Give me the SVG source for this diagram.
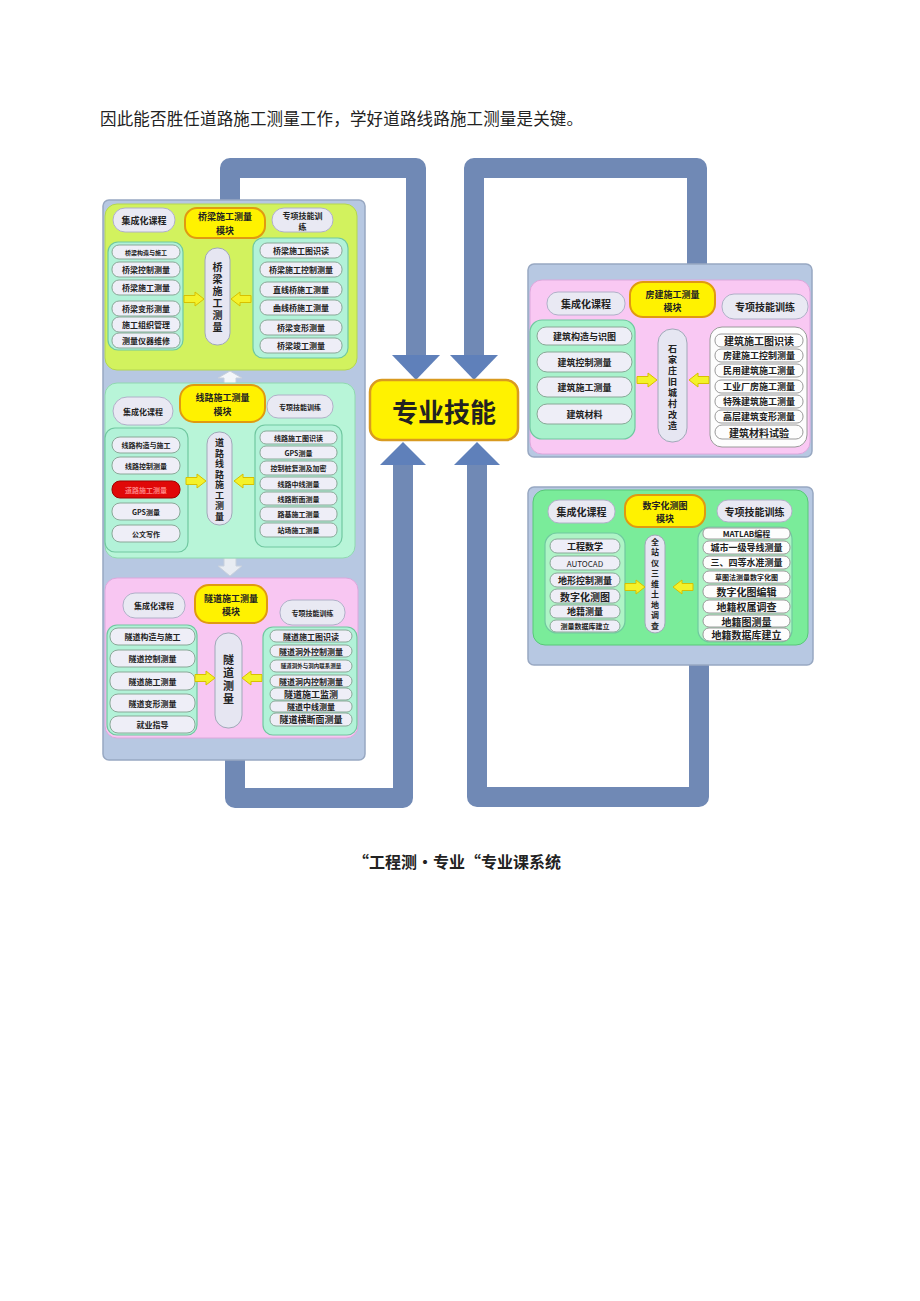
<svg xmlns="http://www.w3.org/2000/svg" width="920" height="1301" viewBox="0 0 920 1301">
<style>
text{font-family:"Noto Sans CJK SC","Noto Sans",sans-serif;fill:#222;text-anchor:middle;dominant-baseline:central;font-weight:bold}
.vt{writing-mode:vertical-rl;text-orientation:upright}
.cont{fill:#b7c8e2;stroke:#98a8c2;stroke-width:1.5}
.p{fill:#eeeef7;stroke:#8aa898;stroke-width:1}
.pw{fill:#fdfdfd;stroke:#9a9a9a;stroke-width:1}
.hd{fill:#e9e9f3;stroke:#b0b0c8;stroke-width:1}
.ti{fill:#fff200;stroke:#e09a10;stroke-width:2}
.vo{fill:#e6e6f2;stroke:#a0a8b8;stroke-width:1}
.ga{fill:#b2f2d8;stroke:#70c8a0;stroke-width:1.2}
.pipe{fill:none;stroke:#7089b5;stroke-width:20;stroke-linejoin:round}
.ah{fill:#5f80ba}
.s6{font-size:6px}.s7{font-size:7px}.s8{font-size:8px}.s9{font-size:9px}.s10{font-size:10px}.s11{font-size:11px}
</style>
<defs>
<polygon id="ar" points="-10,-3.5 1,-3.5 1,-7 10,0 1,7 1,3.5 -10,3.5" fill="#f4f22a" stroke="#d8c000" stroke-width="1"/>
</defs>
<rect width="920" height="1301" fill="#fff"/>
<text x="100" y="118" style="font-size:16.5px;font-weight:normal;text-anchor:start" textLength="483">因此能否胜任道路施工测量工作，学好道路线路施工测量是关键。</text>

<g id="connectors">
<path class="pipe" d="M230,205 V168 H416 V357"/>
<polygon class="ah" points="392,355 440,355 416,380"/>
<path class="pipe" d="M697,270 V168 H474 V357"/>
<polygon class="ah" points="450,355 498,355 474,380"/>
<path class="pipe" d="M403,463 V798 H235 V757"/>
<polygon class="ah" points="380,465 426,465 403,442"/>
<path class="pipe" d="M477,463 V797 H699 V662"/>
<polygon class="ah" points="454,465 500,465 477,442"/>
</g>

<g id="left-container">
<rect class="cont" x="103" y="200" width="262" height="560" rx="6"/>
<polygon points="224,384 224,378 218,378 230,371 242,378 236,378 236,384" fill="#f4f6fa" stroke="#c8d0dc"/>
<polygon points="224,558 224,566 218,566 230,576 242,566 236,566 236,558" fill="#e8ecf2" stroke="#c8d0dc"/>
</g>

<g id="bridge-module">
<rect x="105" y="204" width="252" height="166" rx="12" fill="#d2f25e" stroke="#b4d650"/>
<rect class="hd" x="113" y="208" width="62" height="24" rx="12"/><text class="s9" x="144" y="220">集成化课程</text>
<rect class="ti" x="185" y="208" width="80" height="30" rx="12"/><text class="s9" x="225" y="216">桥梁施工测量</text><text class="s9" x="225" y="230">模块</text>
<rect class="hd" x="272" y="208" width="61" height="24" rx="12"/><text class="s8" x="302.5" y="215">专项技能训</text><text class="s8" x="302.5" y="226">练</text>
<rect class="ga" x="108" y="242" width="75" height="108" rx="10"/>
<rect class="p" x="112" y="245" width="68" height="14" rx="7"/><text class="s6" x="146" y="252">桥梁构造与施工</text>
<rect class="p" x="112" y="262" width="68" height="15" rx="7"/><text class="s8" x="146" y="269.5">桥梁控制测量</text>
<rect class="p" x="112" y="280" width="68" height="15" rx="7"/><text class="s8" x="146" y="287.5">桥梁施工测量</text>
<rect class="p" x="112" y="301" width="68" height="15" rx="7"/><text class="s8" x="146" y="308.5">桥梁变形测量</text>
<rect class="p" x="112" y="317" width="68" height="15" rx="7"/><text class="s8" x="146" y="324.5">施工组织管理</text>
<rect class="p" x="112" y="333" width="68" height="15" rx="7"/><text class="s8" x="146" y="340.5">测量仪器维修</text>
<rect class="vo" x="205" y="248" width="25" height="97" rx="12"/>
<text class="s10 vt" x="217.5" y="298" style="letter-spacing:2px">桥梁施工测量</text>
<use href="#ar" transform="translate(194,299)"/>
<use href="#ar" transform="translate(241,299) scale(-1,1)"/>
<rect class="ga" x="253" y="238" width="95" height="120" rx="10"/>
<rect class="p" x="260" y="243" width="82" height="15" rx="7"/><text class="s8" x="301" y="250.5">桥梁施工图识读</text>
<rect class="p" x="260" y="262" width="82" height="15" rx="7"/><text class="s8" x="301" y="269.5">桥梁施工控制测量</text>
<rect class="p" x="260" y="282" width="82" height="15" rx="7"/><text class="s8" x="301" y="289.5">直线桥施工测量</text>
<rect class="p" x="260" y="300" width="82" height="15" rx="7"/><text class="s8" x="301" y="307.5">曲线桥施工测量</text>
<rect class="p" x="260" y="320" width="82" height="15" rx="7"/><text class="s8" x="301" y="327.5">桥梁变形测量</text>
<rect class="p" x="260" y="338" width="82" height="15" rx="7"/><text class="s8" x="301" y="345.5">桥梁竣工测量</text>
</g>

<g id="route-module">
<rect x="105" y="383" width="250" height="175" rx="12" fill="#b8f5d8" stroke="#90d8b0"/>
<rect class="hd" x="113" y="397" width="60" height="28" rx="14"/><text class="s8" x="143" y="411">集成化课程</text>
<rect class="ti" x="180" y="385" width="85" height="37" rx="14"/><text class="s9" x="222.5" y="397">线路施工测量</text><text class="s9" x="222.5" y="411">模块</text>
<rect class="hd" x="267" y="395" width="66" height="23" rx="11"/><text class="s7" x="300" y="406.5">专项技能训练</text>
<rect class="ga" x="105" y="428" width="83" height="124" rx="10"/>
<rect class="p" x="112" y="437" width="68" height="16" rx="8"/><text class="s7" x="146" y="445">线路构造与施工</text>
<rect class="p" x="112" y="457" width="68" height="17" rx="8"/><text class="s7" x="146" y="465.5">线路控制测量</text>
<rect x="112" y="481" width="68" height="17" rx="8" fill="#e00808" stroke="#a00000"/><text class="s7" x="146" y="489.5" style="fill:#ff8080">道路施工测量</text>
<rect class="p" x="112" y="503" width="68" height="17" rx="8"/><text class="s7" x="146" y="511.5">GPS测量</text>
<rect class="p" x="112" y="525" width="68" height="17" rx="8"/><text class="s7" x="146" y="533.5">公文写作</text>
<rect class="vo" x="207" y="432" width="25" height="93" rx="12"/>
<text class="s9 vt" x="219.5" y="480.5" style="letter-spacing:1.5px">道路线路施工测量</text>
<use href="#ar" transform="translate(196,481)"/>
<use href="#ar" transform="translate(244,481) scale(-1,1)"/>
<rect class="ga" x="255" y="425" width="87" height="122" rx="10"/>
<rect class="p" x="260" y="431" width="77" height="13" rx="6"/><text class="s7" x="298.5" y="437.5">线路施工图识读</text>
<rect class="p" x="260" y="446" width="77" height="13" rx="6"/><text class="s7" x="298.5" y="452.5">GPS测量</text>
<rect class="p" x="260" y="461" width="77" height="14" rx="6"/><text class="s7" x="298.5" y="468">控制桩复测及加密</text>
<rect class="p" x="260" y="477" width="77" height="13" rx="6"/><text class="s7" x="298.5" y="483.5">线路中线测量</text>
<rect class="p" x="260" y="492" width="77" height="13" rx="6"/><text class="s7" x="298.5" y="498.5">线路断面测量</text>
<rect class="p" x="260" y="507" width="77" height="14" rx="6"/><text class="s7" x="298.5" y="514">路基施工测量</text>
<rect class="p" x="260" y="523" width="77" height="14" rx="6"/><text class="s7" x="298.5" y="530">站场施工测量</text>
</g>

<g id="tunnel-module">
<rect x="105" y="578" width="253" height="160" rx="12" fill="#f8c6f2" stroke="#dca8dc"/>
<rect class="hd" x="123" y="593" width="62" height="25" rx="12"/><text class="s8" x="154" y="605.5">集成化课程</text>
<rect class="ti" x="195" y="585" width="72" height="38" rx="14"/><text class="s9" x="231" y="598">隧道施工测量</text><text class="s9" x="231" y="611">模块</text>
<rect class="hd" x="280" y="600" width="65" height="25" rx="12"/><text class="s7" x="312.5" y="612.5">专项技能训练</text>
<rect class="ga" x="107" y="625" width="90" height="110" rx="10"/>
<rect class="p" x="110" y="628" width="85" height="17" rx="8"/><text class="s8" x="152.5" y="636.5">隧道构造与施工</text>
<rect class="p" x="110" y="650" width="85" height="17" rx="8"/><text class="s8" x="152.5" y="658.5">隧道控制测量</text>
<rect class="p" x="110" y="672" width="85" height="18" rx="8"/><text class="s8" x="152.5" y="681">隧道施工测量</text>
<rect class="p" x="110" y="694" width="85" height="18" rx="8"/><text class="s8" x="152.5" y="703">隧道变形测量</text>
<rect class="p" x="110" y="716" width="85" height="17" rx="8"/><text class="s8" x="152.5" y="724.5">就业指导</text>
<rect class="vo" x="215" y="633" width="27" height="95" rx="13"/>
<text class="s11 vt" x="228.5" y="680.5" style="letter-spacing:2px">隧道测量</text>
<use href="#ar" transform="translate(205,678)"/>
<use href="#ar" transform="translate(252,678) scale(-1,1)"/>
<rect class="ga" x="263" y="627" width="94" height="108" rx="10"/>
<rect class="p" x="270" y="630" width="82" height="12" rx="6"/><text class="s8" x="311" y="636">隧道施工图识读</text>
<rect class="p" x="270" y="645" width="82" height="12" rx="6"/><text class="s8" x="311" y="651">隧道洞外控制测量</text>
<rect class="p" x="270" y="660" width="82" height="12" rx="6"/><text class="s6" x="311" y="666" style="font-size:5.5px">隧道洞外与洞内联系测量</text>
<rect class="p" x="270" y="675" width="82" height="12" rx="6"/><text class="s8" x="311" y="681">隧道洞内控制测量</text>
<rect class="p" x="270" y="688" width="82" height="12" rx="6"/><text class="s9" x="311" y="694">隧道施工监测</text>
<rect class="p" x="270" y="701" width="82" height="11" rx="5"/><text class="s8" x="311" y="706.5">隧道中线测量</text>
<rect class="p" x="270" y="713" width="82" height="13" rx="6"/><text class="s9" x="311" y="719.5">隧道横断面测量</text>
</g>

<g id="core-skill">
<rect x="370" y="380" width="148" height="60" rx="12" fill="#fff200" stroke="#d99a20" stroke-width="2.5"/>
<text x="444" y="410" style="font-size:26px">专业技能</text>
</g>

<g id="building-module">
<rect class="cont" x="528" y="264" width="284" height="193" rx="6"/>
<rect x="530" y="280" width="280" height="174" rx="12" fill="#f9c8f3" stroke="#dca8dc"/>
<rect class="hd" x="547" y="292" width="78" height="23" rx="11"/><text class="s10" x="586" y="303.5">集成化课程</text>
<rect class="ti" x="630" y="282" width="85" height="35" rx="13"/><text class="s9" x="672.5" y="294">房建施工测量</text><text class="s9" x="672.5" y="307">模块</text>
<rect class="hd" x="722" y="294" width="86" height="25" rx="12"/><text class="s10" x="765" y="306.5">专项技能训练</text>
<rect class="ga" x="530" y="320" width="105" height="119" rx="12" style="fill:#a8f2cc"/>
<rect class="p" x="537" y="327" width="95" height="18" rx="9"/><text class="s9" x="584.5" y="336">建筑构造与识图</text>
<rect class="p" x="537" y="352" width="95" height="20" rx="10"/><text class="s9" x="584.5" y="362">建筑控制测量</text>
<rect class="p" x="537" y="377" width="95" height="20" rx="10"/><text class="s9" x="584.5" y="387">建筑施工测量</text>
<rect class="p" x="537" y="404" width="95" height="20" rx="10"/><text class="s9" x="584.5" y="414">建筑材料</text>
<rect class="vo" x="658" y="329" width="29" height="113" rx="14"/>
<text class="s9 vt" x="672.5" y="388.5" style="letter-spacing:2px">石家庄旧城村改造</text>
<use href="#ar" transform="translate(647,380)"/>
<use href="#ar" transform="translate(699,380) scale(-1,1)"/>
<rect class="pw" x="710" y="327" width="97" height="120" rx="12"/>
<rect class="pw" x="715" y="334" width="88" height="13" rx="6"/><text class="s10" x="759" y="340.5">建筑施工图识读</text>
<rect class="pw" x="715" y="349" width="88" height="13" rx="6"/><text class="s9" x="759" y="355.5">房建施工控制测量</text>
<rect class="pw" x="715" y="364" width="88" height="13" rx="6"/><text class="s9" x="759" y="370.5">民用建筑施工测量</text>
<rect class="pw" x="715" y="380" width="88" height="13" rx="6"/><text class="s9" x="759" y="386.5">工业厂房施工测量</text>
<rect class="pw" x="715" y="395" width="88" height="13" rx="6"/><text class="s9" x="759" y="401.5">特殊建筑施工测量</text>
<rect class="pw" x="715" y="410" width="88" height="13" rx="6"/><text class="s9" x="759" y="416.5">高层建筑变形测量</text>
<rect class="pw" x="715" y="425" width="88" height="14" rx="7"/><text class="s10" x="759" y="432">建筑材料试验</text>
</g>

<g id="digital-module">
<rect class="cont" x="528" y="487" width="285" height="178" rx="6"/>
<rect x="533" y="490" width="275" height="155" rx="12" fill="#7aec9a" stroke="#58c878"/>
<rect class="hd" x="548" y="500" width="67" height="23" rx="11"/><text class="s10" x="581.5" y="511.5">集成化课程</text>
<rect class="ti" x="625" y="495" width="80" height="32" rx="13"/><text class="s9" x="665" y="505">数字化测图</text><text class="s9" x="665" y="518">模块</text>
<rect class="hd" x="717" y="500" width="75" height="22" rx="11"/><text class="s10" x="754.5" y="511">专项技能训练</text>
<rect class="ga" x="545" y="533" width="80" height="100" rx="12" style="fill:#aef4c6"/>
<rect class="p" x="550" y="539" width="70" height="14" rx="7"/><text class="s9" x="585" y="546">工程数学</text>
<rect class="p" x="550" y="556" width="70" height="14" rx="7"/><text class="s8" x="585" y="563" style="font-weight:normal">AUTOCAD</text>
<rect class="p" x="550" y="573" width="70" height="14" rx="7"/><text class="s9" x="585" y="580">地形控制测量</text>
<rect class="p" x="550" y="589" width="70" height="14" rx="7"/><text class="s10" x="585" y="596">数字化测图</text>
<rect class="p" x="550" y="605" width="70" height="13" rx="6"/><text class="s9" x="585" y="611.5">地籍测量</text>
<rect class="p" x="550" y="620" width="70" height="12" rx="6"/><text class="s7" x="585" y="626">测量数据库建立</text>
<rect class="vo" x="645" y="535" width="20" height="98" rx="10"/>
<text class="s8 vt" x="655" y="585" style="letter-spacing:2.5px">全站仪三维土地调查</text>
<use href="#ar" transform="translate(635,587)"/>
<use href="#ar" transform="translate(683,587) scale(-1,1)"/>
<rect class="ga" x="698" y="527" width="94" height="115" rx="12" style="fill:#aef4c6"/>
<rect class="pw" x="703" y="528" width="87" height="11" rx="5"/><text class="s8" x="746.5" y="533.5">MATLAB编程</text>
<rect class="pw" x="703" y="541" width="87" height="13" rx="6"/><text class="s9" x="746.5" y="547.5">城市一级导线测量</text>
<rect class="pw" x="703" y="556" width="87" height="13" rx="6"/><text class="s9" x="746.5" y="562.5">三、四等水准测量</text>
<rect class="pw" x="703" y="571" width="87" height="12" rx="6"/><text class="s7" x="746.5" y="577">草图法测量数字化图</text>
<rect class="pw" x="703" y="585" width="87" height="13" rx="6"/><text class="s10" x="746.5" y="591.5">数字化图编辑</text>
<rect class="pw" x="703" y="600" width="87" height="13" rx="6"/><text class="s10" x="746.5" y="606.5">地籍权属调查</text>
<rect class="pw" x="703" y="615" width="87" height="12" rx="6"/><text class="s10" x="746.5" y="621">地籍图测量</text>
<rect class="pw" x="703" y="628" width="87" height="13" rx="6"/><text class="s10" x="746.5" y="634.5">地籍数据库建立</text>
</g>

<text x="457" y="861" style="font-size:16px">“工程测·专业“专业课系统</text>
</svg>
